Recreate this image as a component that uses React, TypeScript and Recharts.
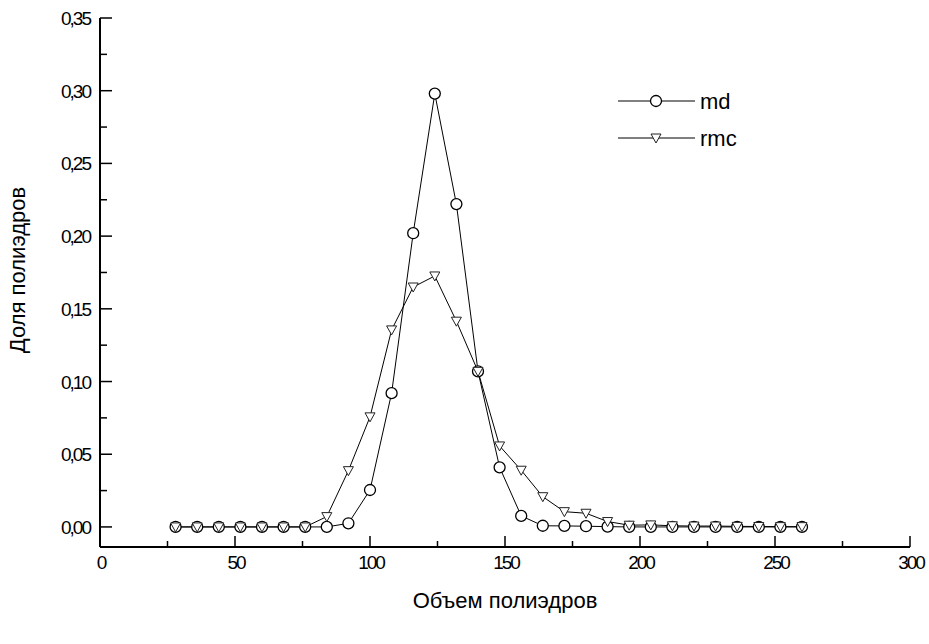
import React from 'react';
import { LineChart, Line, XAxis, YAxis, Legend } from 'recharts';

// объем полиэдров (центры интервалов)
const volumes = [28, 36, 44, 52, 60, 68, 76, 84, 92, 100, 108, 116, 124, 132, 140, 148, 156, 164, 172, 180, 188, 196, 204, 212, 220, 228, 236, 244, 252, 260];

const mdShare = [0, 0, 0, 0, 0, 0, 0, 0, 0.0025, 0.0254, 0.092, 0.202, 0.298, 0.222, 0.107, 0.041, 0.0076, 0.0008, 0.0007, 0.0005, 0.0002, 0, 0, 0, 0, 0, 0, 0, 0, 0];
const rmcShare = [0, 0, 0, 0, 0, 0, 0, 0.0071, 0.0387, 0.0757, 0.1355, 0.165, 0.1726, 0.1415, 0.107, 0.0557, 0.039, 0.0208, 0.0105, 0.0094, 0.0037, 0.0012, 0.0014, 0.0008, 0.0006, 0.0006, 0.0004, 0.0003, 0.0002, 0.0002];

const xTicks = [0, 25, 50, 75, 100, 125, 150, 175, 200, 225, 250, 275, 300];
const xMajor = [0, 50, 100, 150, 200, 250, 300];
const yTicks = [0, 0.025, 0.05, 0.075, 0.1, 0.125, 0.15, 0.175, 0.2, 0.225, 0.25, 0.275, 0.3, 0.325, 0.35];
const yMajor = [0, 0.05, 0.1, 0.15, 0.2, 0.25, 0.3, 0.35];

const chartData = volumes.map((v, i) => ({ v, md: mdShare[i], rmc: rmcShare[i] }));

const FONT = '"Liberation Sans", Arial, sans-serif';

const isMajor = (list: number[], val: number) => list.some(m => Math.abs(m - val) < 1e-9);

const XTick = (props: any) => {
  const { x, y, payload } = props;
  const major = isMajor(xMajor, payload.value);
  return (
    <g>
      <line x1={x} y1={y} x2={x} y2={y - (major ? 11 : 6)} stroke="#000" strokeWidth={1.5} />
      {major && (
        <text x={x + 1} y={y + 22} textAnchor="middle" fontFamily={FONT} fontSize={19} letterSpacing={-2} fill="#000">
          {payload.value}
        </text>
      )}
    </g>
  );
};

const YTick = (props: any) => {
  const { x, y, payload } = props;
  const major = isMajor(yMajor, payload.value);
  return (
    <g>
      <line x1={x} y1={y} x2={x + (major ? 12 : 7)} y2={y} stroke="#000" strokeWidth={1.5} />
      {major && (
        <text x={x - 10} y={y + 7} textAnchor="end" fontFamily={FONT} fontSize={19} letterSpacing={-2} fill="#000">
          {payload.value.toFixed(2).replace('.', ',')}
        </text>
      )}
    </g>
  );
};

const YTitle = () => (
  <text
    x={0}
    y={0}
    transform="translate(25, 270) rotate(-90)"
    textAnchor="middle"
    fontFamily={FONT}
    fontSize={22}
    fill="#000"
  >
    Доля полиэдров
  </text>
);

const CircleDot = (props: any) => {
  const { cx, cy, index } = props;
  return <circle key={`c${index}`} cx={cx} cy={cy} r={5.5} fill="#fff" stroke="#000" strokeWidth={1.3} />;
};

const TriDot = (props: any) => {
  const { cx, cy, index } = props;
  return (
    <path
      key={`t${index}`}
      d={`M${cx - 5},${cy - 4} L${cx + 5},${cy - 4} L${cx},${cy + 5} Z`}
      fill="#fff"
      stroke="#222"
      strokeWidth={1}
    />
  );
};

const LegendBox = () => (
  <div style={{ height: 0, overflow: 'visible' }}>
    <svg width={160} height={70} style={{ overflow: 'visible' }}>
      <line x1={3} y1={13} x2={80} y2={13} stroke="#000" strokeWidth={1} />
      <CircleDot cx={41} cy={13} index={0} />
      <text x={85} y={21} fontFamily={FONT} fontSize={22} fill="#000">md</text>
      <line x1={3} y1={50} x2={80} y2={50} stroke="#000" strokeWidth={1} />
      <TriDot cx={41} cy={50} index={0} />
      <text x={85} y={58} fontFamily={FONT} fontSize={22} fill="#000">rmc</text>
    </svg>
  </div>
);

export default function App() {
  return (
    <div style={{ position: 'absolute', left: 0, top: 0, background: '#fff' }}>
      <LineChart width={929} height={644} data={chartData} margin={{ top: 18, right: 19, bottom: 0, left: 0 }}>
        <XAxis
          dataKey="v"
          type="number"
          domain={[0, 300]}
          ticks={xTicks}
          interval={0}
          tick={<XTick />}
          tickSize={0}
          tickMargin={0}
          tickLine={false}
          height={97}
          axisLine={{ stroke: '#000', strokeWidth: 2 }}
          label={{ value: 'Объем полиэдров', position: 'insideBottom', offset: 36, fontFamily: FONT, fontSize: 22, fill: '#000' }}
        />
        <YAxis
          type="number"
          domain={[-0.0138, 0.35]}
          ticks={yTicks}
          interval={0}
          tick={<YTick />}
          tickSize={0}
          tickMargin={0}
          tickLine={false}
          width={100}
          allowDataOverflow
          axisLine={{ stroke: '#000', strokeWidth: 2 }}
          label={{ content: () => <YTitle /> }}
        />
        <Legend
          content={<LegendBox />}
          wrapperStyle={{ position: 'absolute', left: 615, top: 88, width: 160, height: 0 }}
        />
        <Line dataKey="md" stroke="#000" strokeWidth={1} dot={<CircleDot />} isAnimationActive={false} legendType="none" />
        <Line dataKey="rmc" stroke="#000" strokeWidth={1} dot={<TriDot />} isAnimationActive={false} legendType="none" />
      </LineChart>
    </div>
  );
}
